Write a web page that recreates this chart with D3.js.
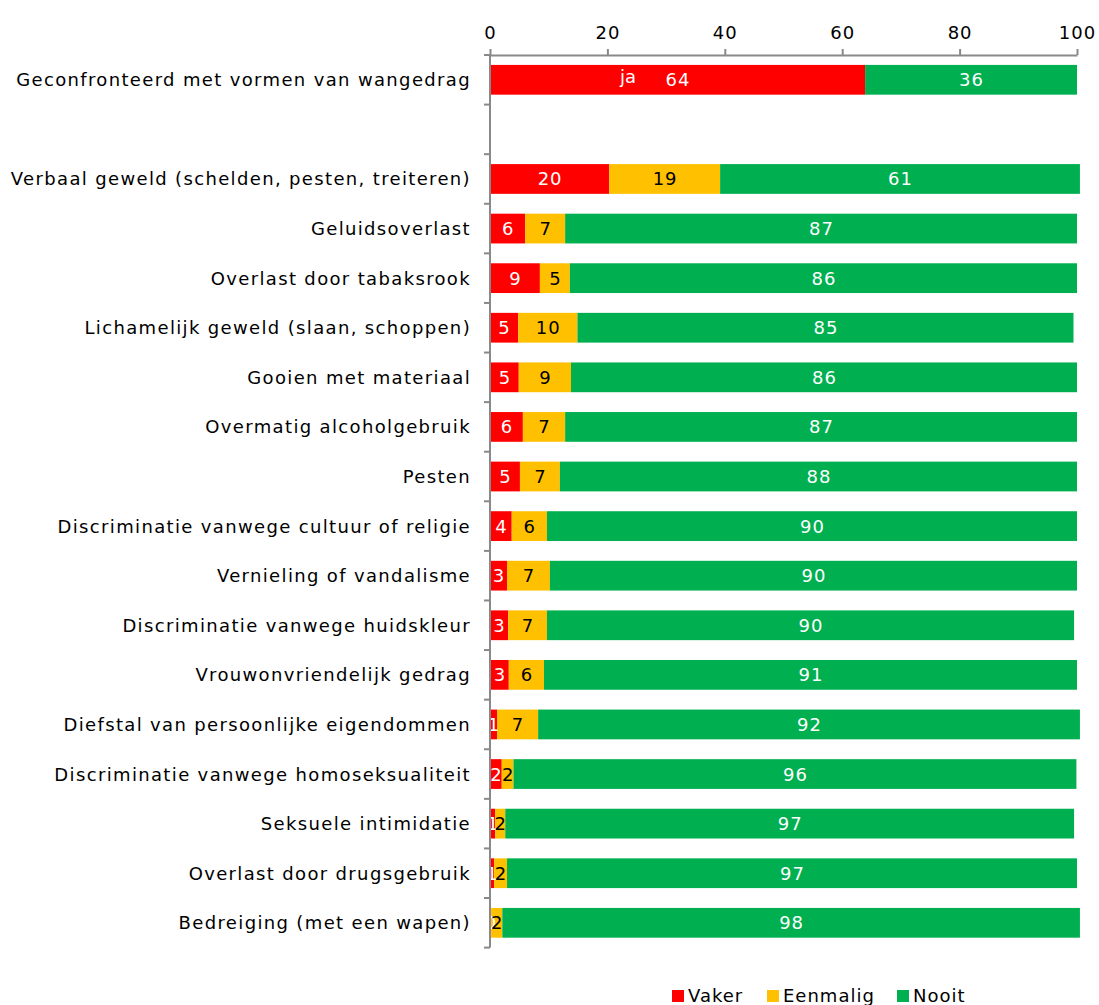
<!DOCTYPE html>
<html><head><meta charset="utf-8">
<script src="https://cdn.jsdelivr.net/npm/d3@7"></script>
<style>body{margin:0;background:#fff;overflow:hidden}svg{display:block}text{font-family:"DejaVu Sans",sans-serif}</style>
</head><body>
<script>
const categories = [
  "Geconfronteerd met vormen van wangedrag", "",
  "Verbaal geweld (schelden, pesten, treiteren)", "Geluidsoverlast",
  "Overlast door tabaksrook", "Lichamelijk geweld (slaan, schoppen)",
  "Gooien met materiaal", "Overmatig alcoholgebruik", "Pesten",
  "Discriminatie vanwege cultuur of religie", "Vernieling of vandalisme",
  "Discriminatie vanwege huidskleur", "Vrouwonvriendelijk gedrag",
  "Diefstal van persoonlijke eigendommen", "Discriminatie vanwege homoseksualiteit",
  "Seksuele intimidatie", "Overlast door drugsgebruik", "Bedreiging (met een wapen)"
];
const seriesNames = ["Vaker", "Eenmalig", "Nooit"];
const vaker    = [63.9, null, 20.3, 6.0, 8.5, 4.8, 4.9, 5.6, 5.1, 3.7, 2.9, 3.1, 3.2, 1.2, 2.0, 0.9, 0.7, 0.2];
const eenmalig = [0,    null, 18.9, 6.8, 5.1, 10.1, 8.9, 7.2, 6.8, 6.0, 7.3, 6.6, 6.0, 7.0, 2.0, 1.7, 2.2, 1.9];
const nooit    = [36.1, null, 61.3, 87.2, 86.4, 84.5, 86.2, 87.2, 88.1, 90.3, 89.8, 89.8, 90.8, 92.3, 95.9, 96.9, 97.1, 98.4];
const xTicks = [0, 20, 40, 60, 80, 100];
const annotation = "ja";
const colors = ["#FF0000", "#FFC000", "#00B050"];
const labelColors = ["#fff", "#000", "#fff"];

const W = 1099, H = 1005;
const svg = d3.select("body").append("svg").attr("width", W).attr("height", H);
const keys = categories.map((c, i) => "k" + i);
const x = d3.scaleLinear().domain([0, 100]).range([490, 1077]);
const y = d3.scaleBand().domain(keys).range([55, 947.6]).paddingInner(0.4).paddingOuter(0.2);

const rows = categories.map((c, i) => ({key: keys[i], name: c, vals: [vaker[i], eenmalig[i], nooit[i]]}));
const data = rows.filter(r => r.vals[0] !== null).map(r => {
  const o = {key: r.key}; seriesNames.forEach((s, j) => o[s] = r.vals[j]); return o;
});
const stacked = d3.stack().keys(seriesNames)(data);

const g = svg.append("g");
stacked.forEach((layer, j) => {
  const lg = g.append("g");
  lg.selectAll("rect").data(layer.filter(d => d[1] - d[0] > 0)).join("rect")
    .attr("x", d => x(d[0])).attr("width", d => x(d[1]) - x(d[0]))
    .attr("y", d => y(d.data.key)).attr("height", y.bandwidth())
    .attr("fill", colors[j]);
});
stacked.forEach((layer, j) => {
  g.append("g").selectAll("text").data(layer.filter(d => d[1] - d[0] > 0)).join("text")
    .attr("x", d => (x(d[0]) + x(d[1])) / 2 + 0.5)
    .attr("y", d => y(d.data.key) + y.bandwidth() / 2)
    .attr("dy", "0.36em").attr("text-anchor", "middle")
    .attr("font-size", 18).attr("letter-spacing", "1px").attr("fill", labelColors[j])
    .text(d => Math.round(d[1] - d[0]));
});
// annotation inside first bar
svg.append("text").attr("x", 628).attr("y", y(keys[0]) + y.bandwidth() / 2 - 3)
  .attr("dy", "0.36em").attr("text-anchor", "middle").attr("font-size", 18)
  .attr("fill", "#fff").text(annotation);

// top axis
const xa = svg.append("g").attr("transform", "translate(0,55)")
  .call(d3.axisTop(x).tickValues(xTicks).tickSize(6).tickPadding(10).tickSizeOuter(0));
xa.select(".domain").attr("stroke", "#898989").attr("stroke-width", 2);
xa.selectAll(".tick line").attr("stroke", "#898989").attr("stroke-width", 2);
xa.selectAll(".tick text").attr("font-size", 18).attr("letter-spacing", "1px").attr("fill", "#000").attr("font-family", "DejaVu Sans");

// left axis
const bounds = keys.map(k => y(k) - y.step() * y.paddingInner() / 2);
bounds.push(y(keys[keys.length - 1]) + y.bandwidth() + y.step() * y.paddingInner() / 2);
const la = svg.append("g");
la.append("line").attr("x1", 490).attr("x2", 490).attr("y1", 55).attr("y2", bounds[bounds.length - 1])
  .attr("stroke", "#898989").attr("stroke-width", 2);
la.selectAll("line.t").data(bounds).join("line").attr("class", "t")
  .attr("x1", 484).attr("x2", 490).attr("y1", d => d).attr("y2", d => d)
  .attr("stroke", "#898989").attr("stroke-width", 2);
la.selectAll("text").data(rows.filter(r => r.name)).join("text")
  .attr("x", 471).attr("y", r => y(r.key) + y.bandwidth() / 2).attr("dy", "0.36em")
  .attr("text-anchor", "end").attr("font-size", 18).attr("letter-spacing", "1.35px")
  .attr("fill", "#000").text(r => r.name);

// legend
const legX = [672, 767, 897];
const leg = svg.append("g");
seriesNames.forEach((s, j) => {
  leg.append("rect").attr("x", legX[j]).attr("y", 990).attr("width", 12).attr("height", 12).attr("fill", colors[j]);
  leg.append("text").attr("x", legX[j] + 16).attr("y", 1002).attr("font-size", 18).attr("letter-spacing", "1px").attr("fill", "#000").text(s);
});
</script>
</body></html>
